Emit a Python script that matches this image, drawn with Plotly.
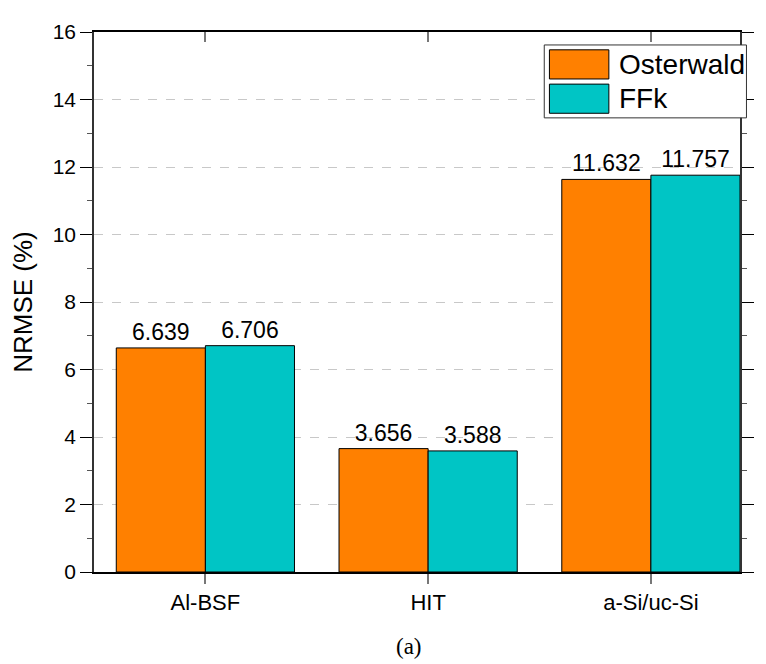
import plotly.graph_objects as go

# data
categories = ["Al-BSF", "HIT", "a-Si/uc-Si"]
osterwald = [6.639, 3.656, 11.632]
ffk = [6.706, 3.588, 11.757]

orange = "#FF8000"
teal = "#00C5C5"
font = "Liberation Sans, Arial, sans-serif"

fig = go.Figure()

fig.add_trace(go.Bar(
    x=categories, y=osterwald, name="Osterwald",
    marker=dict(color=orange, line=dict(color="black", width=1)),
    text=[f"{v:.3f}" for v in osterwald], textposition="outside",
    textfont=dict(size=23, color="black", family=font),
    cliponaxis=False,
))
fig.add_trace(go.Bar(
    x=categories, y=ffk, name="FFk",
    marker=dict(color=teal, line=dict(color="black", width=1)),
    text=[f"{v:.3f}" for v in ffk], textposition="outside",
    textfont=dict(size=23, color="black", family=font),
    cliponaxis=False,
))
# invisible trace so the top axis (inward ticks) gets drawn
fig.add_trace(go.Scatter(x=categories, y=osterwald, xaxis="x2", mode="markers",
                         marker=dict(opacity=0), showlegend=False, hoverinfo="skip"))

# hand-drawn legend with large swatches
legend_items = [("Osterwald", orange), ("FFk", teal)]
fig.add_shape(type="rect", xref="paper", yref="paper",
              x0=0.697, x1=1.01, y0=0.841, y1=0.976,
              line=dict(color="#333", width=1), fillcolor="white", layer="above")
for i, (name, col) in enumerate(legend_items):
    top = 0.967 - i * 0.0635
    fig.add_shape(type="rect", xref="paper", yref="paper",
                  x0=0.705, x1=0.797, y0=top - 0.054, y1=top,
                  line=dict(color="black", width=1), fillcolor=col, layer="above")
    fig.add_annotation(x=0.81, y=top - 0.027, xref="paper", yref="paper",
                       text=name, showarrow=False, xanchor="left", yanchor="middle",
                       font=dict(size=28, color="black", family=font))

fig.add_annotation(x=0.487, y=-0.138, xref="paper", yref="paper", yanchor="middle",
                   text="(a)", showarrow=False,
                   font=dict(size=23, color="black", family="Liberation Serif, Times New Roman, serif"))

# page body has an 8px margin, so the figure is sized to the visible area
fig.update_layout(
    width=758, height=656,
    margin=dict(l=82, r=13, t=12, b=92),
    paper_bgcolor="white", plot_bgcolor="white",
    barmode="group", bargap=0.2, bargroupgap=0,
    showlegend=False,
    font=dict(family=font, color="black"),
    xaxis=dict(
        range=[-0.5, 2.4], showline=True, linecolor="black", linewidth=1.5,
        mirror=True, ticks="outside", ticklen=10, tickcolor="#777", tickwidth=2,
        tickfont=dict(size=22), showgrid=False,
    ),
    xaxis2=dict(
        overlaying="x", side="top", range=[-0.5, 2.4],
        categoryorder="array", categoryarray=categories,
        ticks="inside", ticklen=10, tickcolor="#777", tickwidth=2,
        showticklabels=False, showgrid=False, showline=False,
    ),
    yaxis=dict(
        range=[0, 16], dtick=2, showline=True, linecolor="#333", linewidth=1.5,
        mirror="ticks", ticks="outside", ticklen=12, tickcolor="black",
        tickfont=dict(size=21), showgrid=True, gridcolor="#c8c8c8",
        griddash="dash", gridwidth=1, zeroline=False,
        minor=dict(dtick=1, ticks="outside", ticklen=5, tickcolor="#555", showgrid=False),
        title=dict(text="NRMSE (%)", font=dict(size=26), standoff=14),
    ),
)

fig.write_html("out.html")
